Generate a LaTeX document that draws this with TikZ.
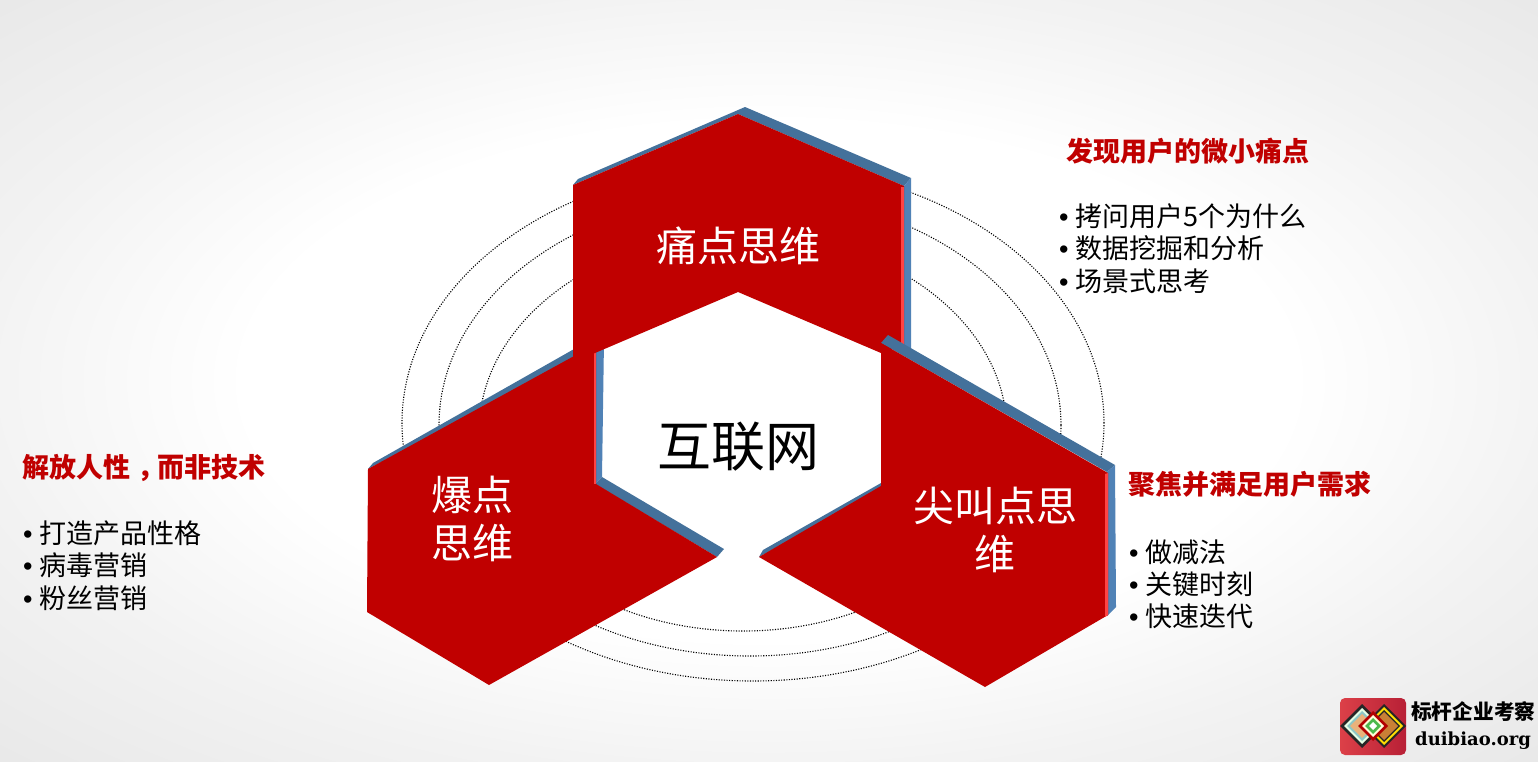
\documentclass[tikz,border=0pt]{standalone}
\usepackage{fontspec}
\setmainfont{Noto Sans CJK SC}
\newfontfamily\LogoLatin{DejaVu Serif}
\newfontfamily\DotFont{Liberation Sans}
\usetikzlibrary{positioning}
\definecolor{hexred}{HTML}{C00000}
\definecolor{hexlight}{HTML}{FF4343}
\definecolor{edgeblue}{HTML}{44719B}
\definecolor{sideblue}{HTML}{5082B6}
\definecolor{headred}{HTML}{C00000}
\definecolor{logored}{HTML}{B82036}
\definecolor{logolight}{HTML}{DC4048}
\newcommand{\Dot}{\makebox[16pt][l]{\DotFont •}}
\newcommand{\Gem}[3]{\fill[#3] (#1-#2,726) -- (#1,726-#2) -- (#1+#2,726) -- (#1,726+#2) -- cycle;}
\pgfdeclareradialshading{softback}{\pgfpoint{0bp}{0bp}}{%
  color(0bp)=(white); color(17bp)=(white); color(26bp)=(black!5); color(36bp)=(black!9); color(50bp)=(black!9)}
\tikzset{
    ring/.style={draw=black, line width=1.1pt, dash pattern=on 1.1pt off 1.5pt},
    hexface/.style={fill=hexred},
    topedge/.style={fill=edgeblue},
    sideedge/.style={fill=sideblue},
    sidelight/.style={fill=hexlight},
    hexlabel/.style={text=white, align=center, font=\fontsize{41}{48}\selectfont, inner sep=0pt},
    headtext/.style={text=headred, anchor=west, inner sep=0pt, font=\fontsize{27}{33}\selectfont\bfseries},
    listtext/.style={text=black, align=left, inner sep=0pt, font=\fontsize{27}{32.4}\selectfont},
}
\begin{document}
\begin{tikzpicture}[x=1pt, y=-1pt]
    \useasboundingbox (0,0) rectangle (1538,761);
    \shade[shading=softback] (0,0) rectangle (1538,761);

    \draw[ring] (753,423) ellipse [x radius=351pt, y radius=258pt];
    \draw[ring] (750,425) ellipse [x radius=311pt, y radius=231pt];
    \draw[ring] (743,432) ellipse [x radius=264pt, y radius=199pt];

    % left block
    \fill[topedge] (368,469) -- (373,463) -- (590,340) -- (595,350) -- cycle;
    \fill[sideedge] (595,340) -- (604,340) -- (602,477) -- (595,484) -- cycle;
    \fill[topedge] (595,484) -- (602,477) -- (724,549) -- (717,557) -- cycle;
    \fill[hexface] (368,469) -- (596,344) -- (596,484) -- (717,557) -- (489,685) -- (367,612) -- cycle;
    \fill[sidelight] (594,340) rectangle (596,484);

    % top block
    \fill[topedge] (573,185) -- (578,179) -- (745,107) -- (911,178) -- (904,186) -- (738,114) -- cycle;
    \fill[sideedge] (904,186) -- (911,178) -- (911,350) -- (904,350) -- cycle;
    \fill[hexface] (573,185) -- (738,114) -- (904,186) -- (904,345) -- (881,353) -- (738,292) -- (595,353) -- (573,363) -- cycle;
    \fill[sidelight] (901,187) rectangle (904,350);

    % right block
    \fill[topedge] (881,343) -- (888,335) -- (1115,465) -- (1107,472) -- cycle;
    \fill[sideedge] (1107,472) -- (1115,465) -- (1116,607) -- (1107,616) -- cycle;
    \fill[topedge] (759,557) -- (763,550) -- (881,483) -- (881,490) -- cycle;
    \fill[hexface] (881,343) -- (1108,473) -- (1108,615) -- (985,687) -- (759,557) -- (881,486) -- cycle;
    \fill[sidelight] (1105,474) -- (1108,473) -- (1108,615) -- (1105,617) -- cycle;

    \node[hexlabel] (pain) at (738,246) {痛点思维};
    \node[hexlabel] (burst) at (472,519) {爆点\\思维};
    \node[hexlabel] (scream) at (995,530) {尖叫点思\\维};
    \node[text=black, inner sep=0pt, font=\fontsize{54}{60}\selectfont] (web) at (738,447) {互联网};

    \node[headtext] (painhead) at (1066,151) {发现用户的微小痛点};
    \node[listtext, below right=39pt and -7pt of painhead.south west] (painlist)
      {\Dot 拷问用户5个为什么\\ \Dot 数据挖掘和分析\\ \Dot 场景式思考};
    \node[headtext] (screamhead) at (1128,484) {聚焦并满足用户需求};
    \node[listtext, below right=42pt and 1pt of screamhead.south west] (screamlist)
      {\Dot 做减法\\ \Dot 关键时刻\\ \Dot 快速迭代};
    \node[headtext] (bursthead) at (22,468) {解放人性\hspace{7pt}，\hspace{-7pt}而非技术};
    \node[listtext, below right=38.5pt and 1pt of bursthead.south west] (burstlist)
      {\Dot 打造产品性格\\ \Dot 病毒营销\\ \Dot 粉丝营销};

    % logo
    \shade[rounded corners=5pt, shading angle=135, left color=logolight, right color=logored] (1340,698) rectangle (1406,755);
    \Gem{1362}{22}{black!85}
    \Gem{1362}{18}{green!10!white}
    \Gem{1362}{15}{teal!45!white}
    \Gem{1362}{12}{orange!45!brown!60}
    \Gem{1384}{22}{black!85}
    \Gem{1384}{19}{yellow!80!orange}
    \Gem{1384}{16}{black!85}
    \Gem{1384}{14}{brown!85!orange}
    \Gem{1373}{15}{red!70!black}
    \Gem{1373}{11}{white!85!yellow}
    \Gem{1373}{8}{green!60!black!70}
    \Gem{1373}{4}{white}
    \node[anchor=west, inner sep=0pt, font=\fontsize{20.7}{22}\selectfont\bfseries] (logoname) at (1411,712) {标杆企业考察};
    \node[inner sep=0pt, font=\LogoLatin\fontsize{18}{20}\selectfont\bfseries, below right=9pt and 4pt of logoname.south west] (logourl) {duibiao.org};
\end{tikzpicture}
\end{document}
